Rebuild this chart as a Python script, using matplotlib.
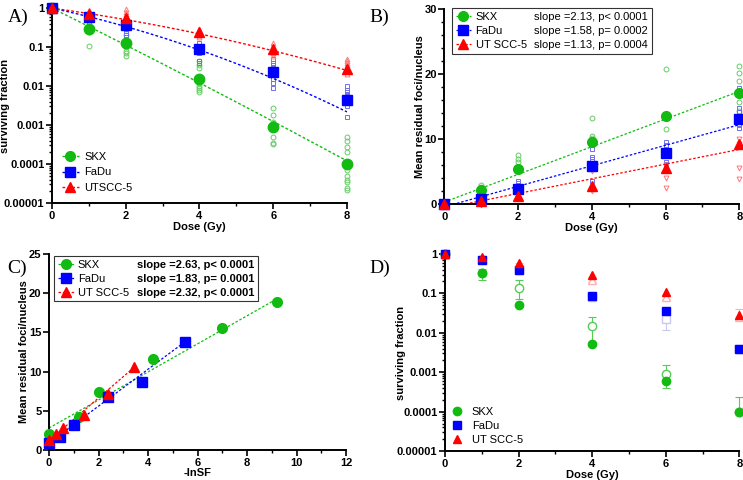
import numpy as np
import matplotlib
matplotlib.use("Agg")
import matplotlib.pyplot as plt
from matplotlib.ticker import FuncFormatter, MultipleLocator, LogLocator
from matplotlib.lines import Line2D

plt.rcParams['font.family'] = ['Liberation Sans', 'DejaVu Sans']

GREEN = '#11bb11'
BLUE = '#0000ff'
RED = '#ff0000'
LGREEN = '#66cc66'
LBLUE = '#7070ee'
LRED = '#ff7777'

names = ['SKX', 'FaDu', 'UTSCC-5']
names_b = ['SKX', 'FaDu', 'UT SCC-5']

# ---- Panel A: clonogenic survival ----
dose = [0, 1, 2, 4, 6, 8]
sf_skx = [1, 0.30, 0.13, 0.015, 0.0009, 0.0001]
sf_fadu = [1, 0.60, 0.37, 0.09, 0.023, 0.0043]
sf_ut = [1, 0.72, 0.55, 0.24, 0.09, 0.028]

# linear-quadratic fit parameters (alpha, beta)
lq_skx = (1.08, 0.006)
lq_fadu = (0.47, 0.037)
lq_ut = (0.30, 0.020)

rep_skx = {1: [0.35, 0.30, 0.25, 0.11],
           2: [0.20, 0.15, 0.12, 0.10, 0.08, 0.07, 0.06],
           4: [0.045, 0.035, 0.03, 0.012, 0.010, 0.009, 0.008, 0.007],
           6: [0.0027, 0.0018, 0.0012, 0.0008, 0.0005, 0.00035, 0.00032],
           8: [0.0005, 0.00038, 0.00027, 0.0002, 0.00007, 0.00005,
               0.00004, 0.000035, 0.000025, 0.000022]}
rep_fadu = {1: [0.5, 0.45, 0.4, 0.35],
            2: [0.30, 0.26, 0.23, 0.20, 0.18],
            4: [0.13, 0.11, 0.07, 0.045, 0.04],
            6: [0.05, 0.04, 0.035, 0.03, 0.015, 0.012, 0.009],
            8: [0.010, 0.008, 0.007, 0.006, 0.005, 0.003, 0.0016]}
rep_ut = {1: [0.9, 0.8, 0.75, 0.65, 0.6],
          2: [0.95, 0.8, 0.7, 0.6, 0.5, 0.45, 0.4],
          4: [0.3, 0.28, 0.25, 0.22, 0.2, 0.18],
          6: [0.13, 0.11, 0.1, 0.08, 0.07, 0.06],
          8: [0.05, 0.045, 0.04, 0.035, 0.03, 0.025, 0.02]}

# ---- Panel B: residual foci vs dose ----
foci_skx = [0, 2.1, 5.4, 9.6, 13.5, 17.1]
foci_fadu = [0, 0.8, 2.3, 5.8, 7.8, 13.1]
foci_ut = [0, 0.4, 1.3, 2.8, 5.5, 9.2]
fit_b = [(2.13, 0.3), (1.58, -0.44), (1.13, -0.64)]  # slope, intercept
slopes_b = ['slope =2.13, p< 0.0001', 'slope =1.58, p= 0.0002',
            'slope =1.13, p= 0.0004']
frep_skx = {1: [2.9, 2.6], 2: [7.6, 7.0, 6.5], 4: [13.3, 10.5, 10.2, 9.8],
            6: [20.8, 13.3, 11.5], 8: [21.3, 20.1, 18.9, 15.7, 14.3]}
frep_fadu = {1: [1.0, 0.6], 2: [3.5, 3.2, 2.0], 4: [8.4, 7.2, 6.9, 5.5, 3.5],
             6: [9.6, 9.1, 8.9, 6.4, 6.2], 8: [17.8, 14.8, 14.2, 12.1, 11.7]}
frep_ut = {1: [0.3], 2: [1.0], 4: [5.1, 2.3, 2.0], 6: [6.0, 4.0, 2.4],
           8: [10.0, 9.3, 5.6, 3.8]}

# ---- Panel C: foci vs -lnSF ----
lnsf_skx = [0, 1.2, 2.0, 4.2, 7.0, 9.2]
fc_skx = [2.0, 4.2, 7.4, 11.6, 15.5, 18.9]
lnsf_fadu = [0, 0.45, 1.0, 2.4, 3.75, 5.5]
fc_fadu = [0.9, 1.7, 3.2, 6.7, 8.7, 13.8]
lnsf_ut = [0, 0.3, 0.55, 1.4, 2.4, 3.45]
fc_ut = [1.3, 2.0, 2.8, 4.4, 7.2, 10.6]
fit_c = [(1.79, 2.8), (2.35, 0.9), (2.72, 1.2)]  # drawn slope, intercept
slopes_c = ['slope =2.63, p< 0.0001', 'slope =1.83, p= 0.0001',
            'slope =2.32, p< 0.0001']

# ---- Panel D: survival, two experiments ----
d_skx = [1, 0.32, 0.052, 0.0053, 0.0006, 0.0001]
d_fadu = [1, 0.72, 0.40, 0.085, 0.035, 0.0038]
d_ut = [1, 0.85, 0.60, 0.30, 0.11, 0.028]
o_skx = [1, 0.32, 0.14, 0.015, 0.0009, 0.0001]
o_skx_lo = [1, 0.22, 0.07, 0.006, 0.0004, 0.0001]
o_skx_hi = [1, 0.42, 0.22, 0.025, 0.0015, 0.00024]
o_fadu = [1, 0.72, 0.40, 0.08, 0.022, 0.0038]
o_fadu_lo = [1, 0.65, 0.36, 0.07, 0.012, 0.0033]
o_fadu_hi = [1, 0.80, 0.44, 0.09, 0.030, 0.0045]
o_ut = [1, 0.80, 0.55, 0.22, 0.08, 0.025]
o_ut_lo = [1, 0.75, 0.50, 0.19, 0.07, 0.022]
o_ut_hi = [1, 0.90, 0.60, 0.26, 0.09, 0.040]


fig = plt.figure(figsize=(7.43, 4.8), dpi=100)
axA = fig.add_axes([0.070, 0.577, 0.397, 0.406])
axB = fig.add_axes([0.598, 0.575, 0.397, 0.406])
axC = fig.add_axes([0.066, 0.0625, 0.400, 0.4085])
axD = fig.add_axes([0.599, 0.060, 0.396, 0.411])

DASH = (0, (2, 1.5))


def style(ax, ylab_x):
    for s in ['top', 'right']:
        ax.spines[s].set_visible(False)
    for s in ['left', 'bottom']:
        ax.spines[s].set_linewidth(1.4)
    ax.tick_params(which='major', length=4, width=1.2, labelsize=8, pad=1.5)
    ax.tick_params(which='minor', length=2.5, width=1.0)
    for lab in ax.get_xticklabels() + ax.get_yticklabels():
        lab.set_fontweight('bold')
    ax.yaxis.set_label_coords(ylab_x, 0.5)


def plain_log(v, pos):
    # 1, 0.1, ..., 0.00001 without float noise
    return f'{v:.6f}'.rstrip('0').rstrip('.')


def log_axis(ax):
    ax.set_yscale('log')
    ax.set_ylim(1e-5, 1)
    ax.yaxis.set_major_locator(LogLocator(base=10, numticks=10))
    ax.yaxis.set_minor_locator(LogLocator(base=10, subs=np.arange(2, 10), numticks=20))
    ax.yaxis.set_major_formatter(FuncFormatter(plain_log))
    ax.set_xlim(0, 8)
    ax.xaxis.set_major_locator(MultipleLocator(2))
    ax.xaxis.set_minor_locator(MultipleLocator(1))


def box_legend(ax, labels, anchor):
    handles = [Line2D([], [], color=c, ls=DASH, lw=0.9, marker=m, ms=7)
               for c, m in [(GREEN, 'o'), (BLUE, 's'), (RED, '^')]]
    blank = [Line2D([], [], ls='none') for _ in range(3)]
    leg = ax.legend(handles=handles + blank, labels=names_b + labels, ncol=2,
                    loc='upper left', bbox_to_anchor=anchor, fontsize=8,
                    frameon=True, fancybox=False, edgecolor='black',
                    handlelength=1.4, handletextpad=0.4, columnspacing=-1.1,
                    borderpad=0.35, labelspacing=0.35, borderaxespad=0)
    leg.get_frame().set_linewidth(0.8)
    return leg


# Panel A
log_axis(axA)
xx = np.linspace(0, 8, 100)
for sf, lq, rep, c, lc, m in [
        (sf_skx, lq_skx, rep_skx, GREEN, LGREEN, 'o'),
        (sf_fadu, lq_fadu, rep_fadu, BLUE, LBLUE, 's'),
        (sf_ut, lq_ut, rep_ut, RED, LRED, '^')]:
    for d, vals in rep.items():
        axA.plot([d] * len(vals), vals, ls='none', marker=m, ms=3.5, mfc='none',
                 mec=lc, mew=0.7, clip_on=False)
    axA.plot(xx, np.exp(-lq[0] * xx - lq[1] * xx ** 2), ls=DASH, color=c, lw=1.0)
    axA.plot(dose, sf, ls='none', marker=m, ms=7.5, color=c, clip_on=False, zorder=5)
axA.legend(handles=[Line2D([], [], color=c, ls=DASH, lw=1.0, marker=m, ms=7)
                    for c, m in [(GREEN, 'o'), (BLUE, 's'), (RED, '^')]],
           labels=names, loc='lower left', frameon=False, fontsize=8,
           bbox_to_anchor=(0.0, 0.0), handlelength=1.5, handletextpad=0.5,
           labelspacing=0.5)
axA.set_xlabel('Dose (Gy)', fontsize=8, fontweight='bold', labelpad=1)
axA.set_ylabel('surviving fraction', fontsize=8, fontweight='bold')
style(axA, -0.142)

# Panel B
axB.set_xlim(0, 8)
axB.set_ylim(0, 30)
axB.xaxis.set_major_locator(MultipleLocator(2))
axB.xaxis.set_minor_locator(MultipleLocator(1))
axB.yaxis.set_major_locator(MultipleLocator(10))
axB.yaxis.set_minor_locator(MultipleLocator(2))
for foci, (sl, ic), rep, c, lc, m, om in [
        (foci_skx, fit_b[0], frep_skx, GREEN, LGREEN, 'o', 'o'),
        (foci_fadu, fit_b[1], frep_fadu, BLUE, LBLUE, 's', 's'),
        (foci_ut, fit_b[2], frep_ut, RED, LRED, '^', 'v')]:
    for d, vals in rep.items():
        axB.plot([d] * len(vals), vals, ls='none', marker=om, ms=3.5, mfc='none',
                 mec=lc, mew=0.7, clip_on=False)
    axB.plot(xx, sl * xx + ic, ls=DASH, color=c, lw=0.9)
    axB.plot(dose, foci, ls='none', marker=m, ms=7, color=c, clip_on=False, zorder=5)
box_legend(axB, slopes_b, (0.025, 1.005))
axB.set_xlabel('Dose (Gy)', fontsize=8, fontweight='bold', labelpad=1)
axB.set_ylabel('Mean residual foci/nucleus', fontsize=8, fontweight='bold')
style(axB, -0.064)

# Panel C
axC.set_xlim(0, 12)
axC.set_ylim(0, 25)
axC.xaxis.set_major_locator(MultipleLocator(2))
axC.xaxis.set_minor_locator(MultipleLocator(1))
axC.yaxis.set_major_locator(MultipleLocator(5))
for lx, fy, (sl, ic), c, m in [
        (lnsf_skx, fc_skx, fit_c[0], GREEN, 'o'),
        (lnsf_fadu, fc_fadu, fit_c[1], BLUE, 's'),
        (lnsf_ut, fc_ut, fit_c[2], RED, '^')]:
    xl = np.array([min(lx), max(lx)])
    axC.plot(xl, sl * xl + ic, ls=DASH, color=c, lw=0.9)
    axC.plot(lx, fy, ls='none', marker=m, ms=7, color=c, clip_on=False, zorder=5)
legC = box_legend(axC, slopes_c, (0.017, 0.99))
for t in legC.get_texts()[3:]:
    t.set_fontweight('bold')
axC.set_xlabel('-lnSF', fontsize=8, fontweight='bold', labelpad=0.5)
axC.set_ylabel('Mean residual foci/nucleus', fontsize=8, fontweight='bold')
style(axC, -0.067)

# Panel D
log_axis(axD)
for y, lo, hi, lc, m in [(o_fadu, o_fadu_lo, o_fadu_hi, '#c8c8f0', 's'),
                         (o_ut, o_ut_lo, o_ut_hi, '#ffb0b0', '^'),
                         (o_skx, o_skx_lo, o_skx_hi, '#55cc55', 'o')]:
    y = np.array(y)
    yerr = np.array([y - np.array(lo), np.array(hi) - y])
    axD.errorbar(dose, y, yerr=yerr, ls='none', marker=m, ms=6, mfc='white',
                 mec=lc, ecolor=lc, elinewidth=0.8, capsize=3, capthick=0.8,
                 clip_on=False)
for y, c, m, name in [(d_skx, GREEN, 'o', 'SKX'), (d_fadu, BLUE, 's', 'FaDu'),
                      (d_ut, RED, '^', 'UT SCC-5')]:
    axD.plot(dose, y, ls='none', marker=m, ms=6, color=c, clip_on=False,
             zorder=5, label=name)
axD.legend(loc='lower left', frameon=False, fontsize=8, handlelength=1.0,
           handletextpad=0.8, bbox_to_anchor=(0.0, 0.0), borderaxespad=0.2,
           labelspacing=0.35)
axD.set_xlabel('Dose (Gy)', fontsize=8, fontweight='bold', labelpad=0.5)
axD.set_ylabel('surviving fraction', fontsize=8, fontweight='bold')
style(axD, -0.133)

for lab, x, y in [('A)', 0.010, 0.955), ('B)', 0.497, 0.955),
                  ('C)', 0.010, 0.432), ('D)', 0.497, 0.432)]:
    fig.text(x, y, lab, fontsize=14, family='Liberation Serif')

fig.savefig('out.png', dpi=100)
